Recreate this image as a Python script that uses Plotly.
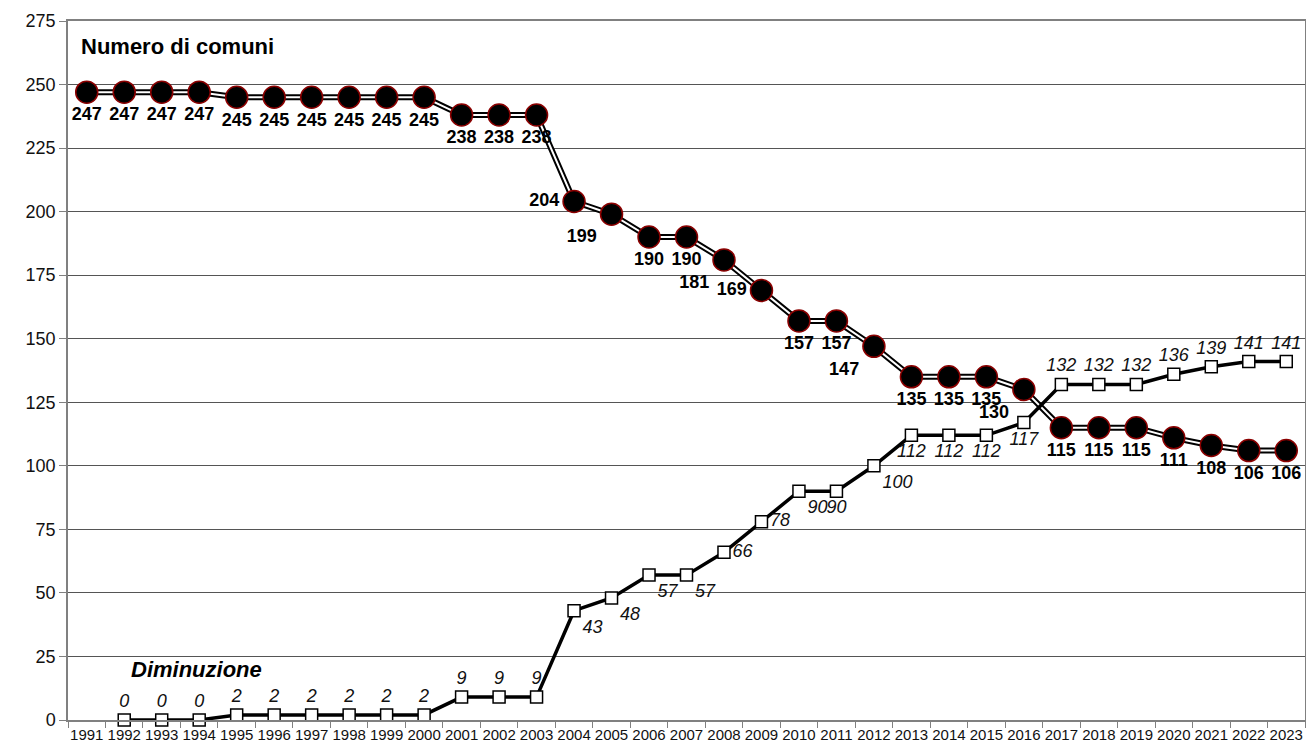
import plotly.graph_objects as go

years = [str(y) for y in range(1991, 2024)]
comuni = [247, 247, 247, 247, 245, 245, 245, 245, 245, 245, 238, 238, 238, 204, 199,
          190, 190, 181, 169, 157, 157, 147, 135, 135, 135, 130, 115, 115, 115, 111,
          108, 106, 106]
dim_years = [str(y) for y in range(1992, 2024)]
diminuzione = [0, 0, 0, 2, 2, 2, 2, 2, 2, 9, 9, 9, 43, 48, 57, 57, 66, 78, 90, 90,
               100, 112, 112, 112, 117, 132, 132, 132, 136, 139, 141, 141]
y_ticks = list(range(0, 276, 25))

# label placement (style only)
pos_comuni = {"2004": "middle left", "2005": "bottom left", "2008": "bottom left",
              "2009": "middle left", "2012": "bottom left", "2016": "bottom left"}
comuni_pos = [pos_comuni.get(y, "bottom center") for y in years]
pos_dim = {"2004": "bottom right", "2005": "bottom right", "2006": "bottom right",
           "2007": "bottom right", "2008": "middle right", "2009": "middle right",
           "2010": "bottom right", "2011": "bottom center", "2012": "bottom right",
           "2013": "bottom center", "2014": "bottom center", "2015": "bottom center",
           "2016": "bottom center"}
dim_pos = [pos_dim.get(y, "top center") for y in dim_years]

FONT = "Liberation Sans, Arial, sans-serif"

fig = go.Figure()
# outer black stroke of the double line
fig.add_trace(go.Scatter(x=years, y=comuni, mode="lines",
                         line=dict(color="black", width=6), hoverinfo="skip",
                         showlegend=False))
# inner white stroke + markers + labels
fig.add_trace(go.Scatter(
    x=years, y=comuni, mode="lines+markers+text",
    line=dict(color="white", width=2),
    marker=dict(symbol="circle", size=22, color="black",
                line=dict(color="#8b0000", width=1.5)),
    text=[str(v) for v in comuni], textposition=comuni_pos,
    textfont=dict(family=FONT, size=18, color="black", weight="bold"),
    cliponaxis=False, showlegend=False))
fig.add_trace(go.Scatter(
    x=dim_years, y=diminuzione, mode="lines+markers+text",
    line=dict(color="black", width=3.5),
    marker=dict(symbol="square", size=12, color="white",
                line=dict(color="black", width=1.5)),
    text=[str(v) for v in diminuzione], textposition=dim_pos,
    textfont=dict(family=FONT, size=18, color="#111", style="italic"),
    cliponaxis=False, showlegend=False))

fig.add_annotation(x=0, xref="paper", xshift=11, y=264.8, yref="y",
                   text="<b>Numero di comuni</b>", showarrow=False, xanchor="left",
                   font=dict(family=FONT, size=22, color="black"))
fig.add_annotation(x=0, xref="paper", xshift=61, y=19.7, yref="y",
                   text="<b><i>Diminuzione</i></b>", showarrow=False, xanchor="left",
                   font=dict(family=FONT, size=22, color="black"))

fig.update_layout(
    width=1306, height=747,
    margin=dict(l=68, r=1, t=21, b=27),
    paper_bgcolor="white", plot_bgcolor="white",
    xaxis=dict(type="category", range=[-0.5, len(years) - 0.5],
               tickson="boundaries", ticks="outside", ticklen=6,
               tickcolor="#808080", showline=True, linecolor="#808080", linewidth=1.5,
               mirror=True, showgrid=False, tickangle=0, automargin=False,
               tickfont=dict(family=FONT, size=15, color="#111")),
    yaxis=dict(range=[0, 275], tickvals=y_ticks, ticks="outside", ticklen=7,
               tickcolor="#808080", showline=True, linecolor="#808080", linewidth=1.5,
               mirror=True, showgrid=True, gridcolor="#555", gridwidth=1,
               zeroline=False, automargin=False,
               tickfont=dict(family=FONT, size=18, color="#111")),
)

fig.write_html("out.html", config={"displayModeBar": False},
               post_script="document.body.style.margin='0';document.body.style.overflow='hidden';")
